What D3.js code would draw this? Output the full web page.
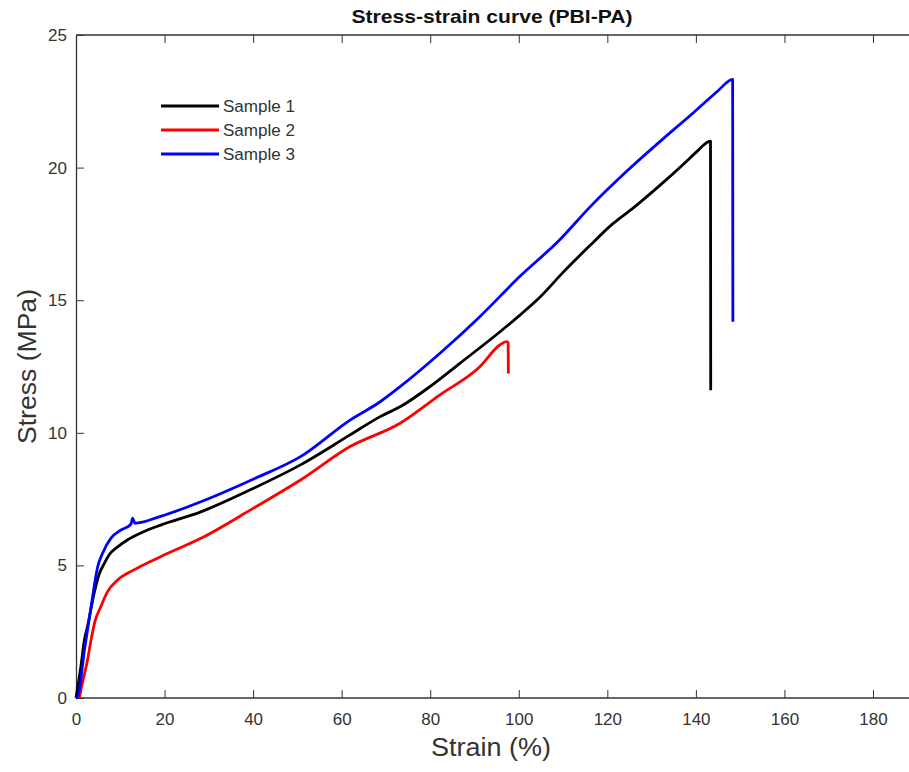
<!DOCTYPE html>
<html>
<head>
<meta charset="utf-8">
<script src="https://cdn.jsdelivr.net/npm/d3@7"></script>
<style>
  body { margin: 0; background: #fff; }
  svg { display: block; font-family: "Liberation Sans", Arial, Helvetica, sans-serif; }
  .axis path, .axis line { stroke: #333; }
  .axis text { fill: #333; font-size: 17px; }
</style>
</head>
<body>
<svg id="chart" width="909" height="772"></svg>
<script>
// Stress-strain data
const seriesNames = ['Sample 1', 'Sample 2', 'Sample 3'];
const seriesColors = ['#000000', '#ff0000', '#0000ff'];

const strain1 = [0, 1.1, 1.9, 2.6, 4.1, 5.2, 6.4, 7.5, 9.4, 11.6, 15.0, 19.1, 28.2, 40, 50.7, 61.9, 68.7, 73.2, 80.0, 86.7, 95.7, 100, 104.7, 110, 116, 121, 126, 132, 137, 140.5, 142.5, 143.3, 143.35];
const stress1 = [0, 1.18, 2.19, 2.7, 3.95, 4.65, 5.08, 5.4, 5.7, 5.96, 6.25, 6.52, 7.02, 7.9, 8.79, 9.92, 10.61, 10.98, 11.75, 12.62, 13.8, 14.4, 15.1, 16.05, 17.05, 17.85, 18.5, 19.35, 20.1, 20.65, 20.95, 21.0, 11.6];

const strain2 = [0.75, 1.1, 2.6, 3.4, 4.3, 5.6, 7.1, 9.4, 13.1, 19.1, 28.2, 40, 50.7, 61.9, 73.2, 82.2, 91.2, 95.7, 97.2, 97.6, 97.65];
const stress2 = [0, 0.3, 1.43, 2.19, 2.9, 3.44, 4.0, 4.45, 4.83, 5.33, 6.02, 7.15, 8.22, 9.48, 10.36, 11.43, 12.49, 13.31, 13.44, 13.4, 12.24];

const strain3 = [0, 0.4, 1.9, 3.4, 4.9, 6.0, 7.9, 10.1, 12.4, 12.8, 13.3, 19.1, 28.2, 40, 50.7, 61.9, 68.7, 73.2, 82.2, 91.2, 100.2, 109.2, 116, 124.3, 132, 139.3, 145, 147.8, 148.3, 148.35];
const stress3 = [0, 0.05, 1.81, 3.44, 4.95, 5.46, 6.03, 6.33, 6.55, 6.78, 6.59, 6.85, 7.40, 8.25, 9.10, 10.48, 11.17, 11.74, 13.0, 14.38, 15.89, 17.27, 18.5, 19.85, 21.0, 22.05, 22.9, 23.3, 23.33, 14.19];

const xTicks = [0, 20, 40, 60, 80, 100, 120, 140, 160, 180];
const yTicks = [0, 5, 10, 15, 20, 25];

const svg = d3.select('#chart');
const plotLeft = 76, plotTop = 35, plotBottom = 698, plotRight = 909;

const x = d3.scaleLinear().domain([0, 180]).range([plotLeft, 873]);
const y = d3.scaleLinear().domain([0, 25]).range([plotBottom, plotTop]);

svg.append('rect').attr('width', 909).attr('height', 772).attr('fill', '#fff');

// bottom axis
const xAxis = svg.append('g')
    .attr('class', 'axis')
    .attr('transform', `translate(0,${plotBottom})`)
    .call(d3.axisBottom(x).tickValues(xTicks).tickSizeInner(-8).tickSizeOuter(0).tickPadding(15));
xAxis.select('.domain').remove();
xAxis.append('line').attr('x1', plotLeft).attr('x2', plotRight).attr('stroke', '#333').attr('stroke-width', 1.3);

// top axis (ticks only)
const topAxis = svg.append('g')
    .attr('class', 'axis')
    .attr('transform', `translate(0,${plotTop})`)
    .call(d3.axisTop(x).tickValues(xTicks).tickSizeInner(-8).tickSizeOuter(0).tickFormat(''));
topAxis.select('.domain').remove();
topAxis.append('line').attr('x1', plotLeft).attr('x2', plotRight).attr('stroke', '#333').attr('stroke-width', 1.3);

// left axis
const yAxis = svg.append('g')
    .attr('class', 'axis')
    .attr('transform', `translate(${plotLeft},0)`)
    .call(d3.axisLeft(y).tickValues(yTicks).tickSizeInner(-8).tickSizeOuter(0).tickPadding(9));
yAxis.select('.domain').attr('stroke-width', 1.3);

// curves
const line = d3.line().x(d => x(d[0])).y(d => y(d[1])).curve(d3.curveMonotoneX);
const series = [
    d3.zip(strain1, stress1),
    d3.zip(strain2, stress2),
    d3.zip(strain3, stress3)
];
series.forEach((pts, i) => {
    svg.append('path')
        .datum(pts)
        .attr('d', line)
        .attr('fill', 'none')
        .attr('stroke', seriesColors[i])
        .attr('stroke-width', 2.8)
        .attr('stroke-linejoin', 'round');
});

// title and labels
svg.append('text')
    .attr('x', 492).attr('y', 23)
    .attr('text-anchor', 'middle')
    .attr('font-size', 19).attr('font-weight', 'bold')
    .attr('textLength', 281).attr('lengthAdjust', 'spacingAndGlyphs')
    .attr('fill', '#111')
    .text('Stress-strain curve (PBI-PA)');

svg.append('text')
    .attr('x', 491).attr('y', 756)
    .attr('text-anchor', 'middle')
    .attr('font-size', 26).attr('fill', '#333')
    .attr('textLength', 120).attr('lengthAdjust', 'spacingAndGlyphs')
    .text('Strain (%)');

svg.append('text')
    .attr('transform', `translate(36,${(plotTop + plotBottom) / 2}) rotate(-90)`)
    .attr('text-anchor', 'middle')
    .attr('font-size', 26).attr('fill', '#333')
    .attr('textLength', 155).attr('lengthAdjust', 'spacingAndGlyphs')
    .text('Stress (MPa)');

// legend
const legend = svg.append('g');
seriesNames.forEach((name, i) => {
    const ly = 106 + i * 24;
    legend.append('line')
        .attr('x1', 161).attr('x2', 219)
        .attr('y1', ly).attr('y2', ly)
        .attr('stroke', seriesColors[i]).attr('stroke-width', 2.8);
    legend.append('text')
        .attr('x', 223).attr('y', ly + 6)
        .attr('font-size', 16).attr('fill', '#333')
        .attr('textLength', 72).attr('lengthAdjust', 'spacingAndGlyphs')
        .text(name);
});
</script>
</body>
</html>
